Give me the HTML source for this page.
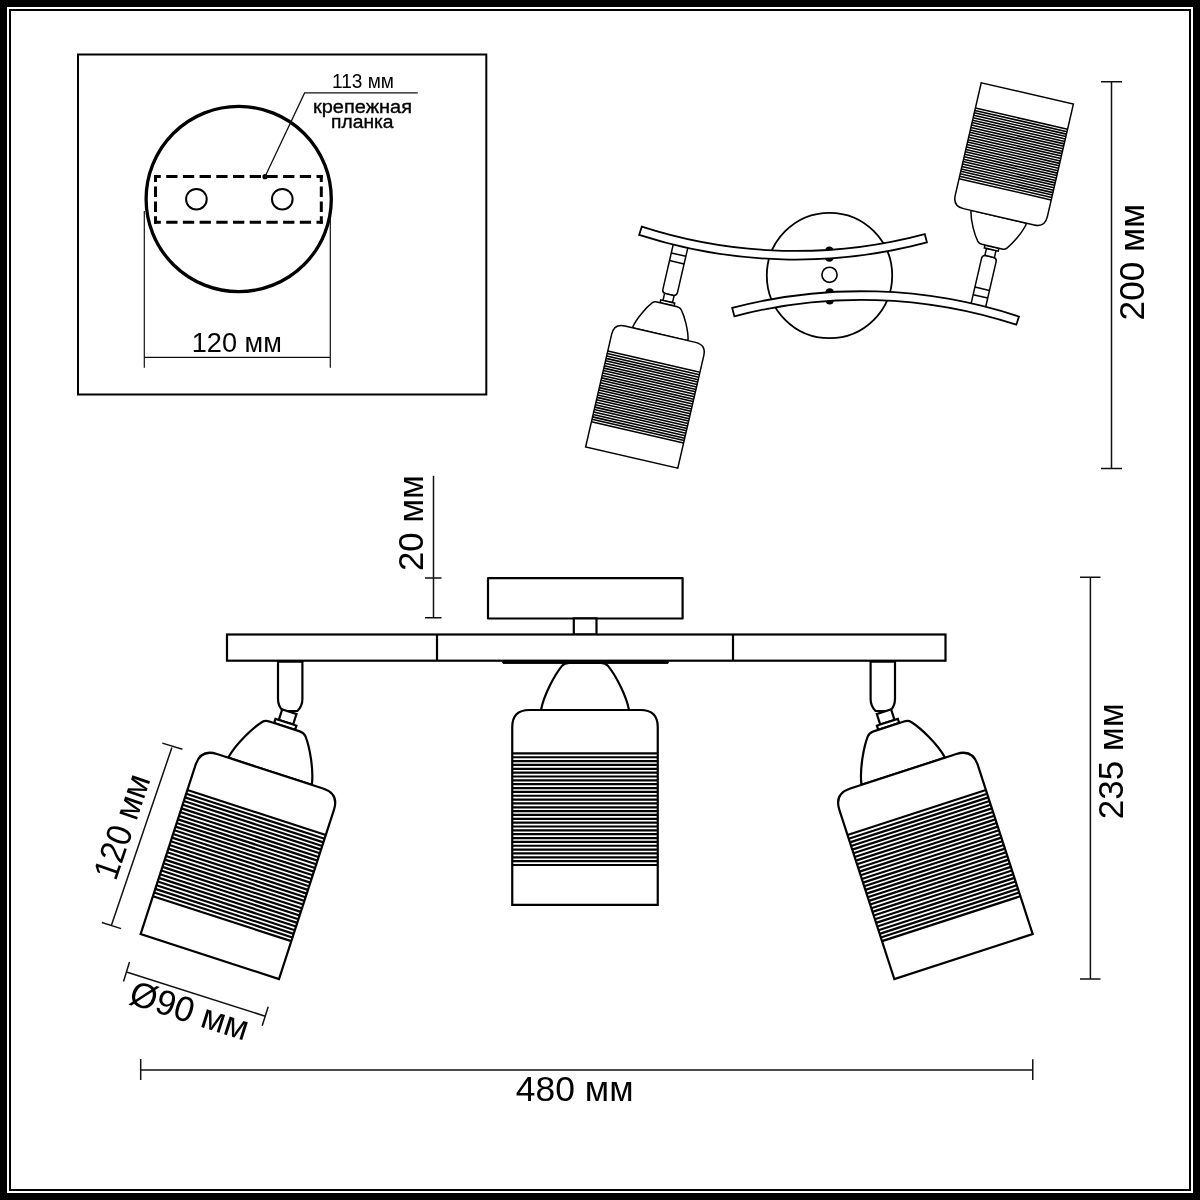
<!DOCTYPE html><html><head><meta charset="utf-8"><style>html,body{margin:0;padding:0;background:#fff;}svg{display:block;will-change:transform}text{font-family:"Liberation Sans",sans-serif;fill:#000}</style></head><body><svg width="1200" height="1200" viewBox="0 0 1200 1200"><rect x="0" y="0" width="1200" height="1200" fill="#000"/><rect x="7" y="7" width="1186" height="1186" fill="#fff"/><rect x="10" y="10" width="1180" height="1180" fill="none" stroke="#000" stroke-width="2"/><rect x="78" y="54.5" width="408.3" height="340" fill="none" stroke="#000" stroke-width="2"/><circle cx="238.7" cy="199" r="92.6" fill="none" stroke="#000" stroke-width="3.3"/><path d="M154.0,176.6H322.8M154.0,222.3H322.8" stroke="#000" stroke-width="3" stroke-dasharray="11.3 5.4" stroke-dashoffset="4.5" fill="none"/><path d="M155.5,175.1V223.8M321.3,175.1V223.8" stroke="#000" stroke-width="3" stroke-dasharray="10.5 4.4" stroke-dashoffset="3.5" fill="none"/><circle cx="196.4" cy="199.2" r="10.3" fill="none" stroke="#000" stroke-width="2"/><circle cx="282.3" cy="199.2" r="10.3" fill="none" stroke="#000" stroke-width="2"/><circle cx="265" cy="176.7" r="2.6" fill="#000"/><path d="M265,176.7 L304.6,92.9 H417.8" fill="none" stroke="#111" stroke-width="1.3"/><path d="M144.3,211V367.8M330.3,217.8V367.8M144.3,357.3H330.3" fill="none" stroke="#111" stroke-width="1.2"/><text x="363" y="87.5" font-size="19.5" text-anchor="middle" textLength="62" lengthAdjust="spacingAndGlyphs">113 мм</text><text x="362.5" y="113.4" font-size="18" stroke="#000" stroke-width="0.35" text-anchor="middle" textLength="99" lengthAdjust="spacingAndGlyphs">крепежная</text><text x="362.3" y="128" font-size="18" stroke="#000" stroke-width="0.35" text-anchor="middle" textLength="62.5" lengthAdjust="spacingAndGlyphs">планка</text><text x="236.8" y="351.6" font-size="27" text-anchor="middle" textLength="90" lengthAdjust="spacingAndGlyphs">120 мм</text><circle cx="829.5" cy="275.5" r="62.7" fill="#fff" stroke="#000" stroke-width="1.8"/><circle cx="829.5" cy="274.8" r="7.6" fill="#fff" stroke="#000" stroke-width="1.6"/><g transform="translate(645.95,395.9) rotate(13) scale(0.65)"><path d="M-11.5,-238 L-11.5,-166 Q-11.5,-160 -5.5,-160 L5.5,-160 Q11.5,-160 11.5,-166 L11.5,-238" fill="#fff" stroke="#000" stroke-width="2.3"/><path d="M-11.5,-211H11.5M-11.5,-223H11.5" stroke="#000" stroke-width="2.3"/><rect x="-7.5" y="-160" width="15" height="11" fill="#fff" stroke="#000" stroke-width="2.3"/><rect x="-11" y="-149" width="22" height="4.5" fill="#fff" stroke="#000" stroke-width="2.3"/><path d="M-44,-97.4 C-41,-113 -30,-133 -23,-141.5 Q-20.5,-144.5 -16,-144.5 L16,-144.5 Q20.5,-144.5 23,-141.5 C30,-133 41,-113 44,-97.4 Z" fill="#fff" stroke="#000" stroke-width="2.3" stroke-linejoin="round"/><path d="M-72.75,97.4 L-72.75,-80.4 Q-72.75,-97.4 -55.75,-97.4 L55.75,-97.4 Q72.75,-97.4 72.75,-80.4 L72.75,97.4 Z" fill="#fff" stroke="#000" stroke-width="2.3"/><path d="M-72.75,-54.00H72.75M-72.75,-50.15H72.75M-72.75,-46.30H72.75M-72.75,-42.46H72.75M-72.75,-38.61H72.75M-72.75,-34.76H72.75M-72.75,-30.91H72.75M-72.75,-27.06H72.75M-72.75,-23.21H72.75M-72.75,-19.37H72.75M-72.75,-15.52H72.75M-72.75,-11.67H72.75M-72.75,-7.82H72.75M-72.75,-3.97H72.75M-72.75,-0.12H72.75M-72.75,3.72H72.75M-72.75,7.57H72.75M-72.75,11.42H72.75M-72.75,15.27H72.75M-72.75,19.12H72.75M-72.75,22.97H72.75M-72.75,26.81H72.75M-72.75,30.66H72.75M-72.75,34.51H72.75M-72.75,38.36H72.75M-72.75,42.21H72.75M-72.75,46.06H72.75M-72.75,49.90H72.75M-72.75,53.75H72.75M-72.75,57.60H72.75" stroke="#000" stroke-width="2.4" fill="none"/></g><g transform="rotate(180,829.5,275.5) translate(645.95,395.9) rotate(13) scale(0.65)"><path d="M-11.5,-238 L-11.5,-166 Q-11.5,-160 -5.5,-160 L5.5,-160 Q11.5,-160 11.5,-166 L11.5,-238" fill="#fff" stroke="#000" stroke-width="2.3"/><path d="M-11.5,-211H11.5M-11.5,-223H11.5" stroke="#000" stroke-width="2.3"/><rect x="-7.5" y="-160" width="15" height="11" fill="#fff" stroke="#000" stroke-width="2.3"/><rect x="-11" y="-149" width="22" height="4.5" fill="#fff" stroke="#000" stroke-width="2.3"/><path d="M-44,-97.4 C-41,-113 -30,-133 -23,-141.5 Q-20.5,-144.5 -16,-144.5 L16,-144.5 Q20.5,-144.5 23,-141.5 C30,-133 41,-113 44,-97.4 Z" fill="#fff" stroke="#000" stroke-width="2.3" stroke-linejoin="round"/><path d="M-72.75,97.4 L-72.75,-80.4 Q-72.75,-97.4 -55.75,-97.4 L55.75,-97.4 Q72.75,-97.4 72.75,-80.4 L72.75,97.4 Z" fill="#fff" stroke="#000" stroke-width="2.3"/><path d="M-72.75,-54.00H72.75M-72.75,-50.15H72.75M-72.75,-46.30H72.75M-72.75,-42.46H72.75M-72.75,-38.61H72.75M-72.75,-34.76H72.75M-72.75,-30.91H72.75M-72.75,-27.06H72.75M-72.75,-23.21H72.75M-72.75,-19.37H72.75M-72.75,-15.52H72.75M-72.75,-11.67H72.75M-72.75,-7.82H72.75M-72.75,-3.97H72.75M-72.75,-0.12H72.75M-72.75,3.72H72.75M-72.75,7.57H72.75M-72.75,11.42H72.75M-72.75,15.27H72.75M-72.75,19.12H72.75M-72.75,22.97H72.75M-72.75,26.81H72.75M-72.75,30.66H72.75M-72.75,34.51H72.75M-72.75,38.36H72.75M-72.75,42.21H72.75M-72.75,46.06H72.75M-72.75,49.90H72.75M-72.75,53.75H72.75M-72.75,57.60H72.75" stroke="#000" stroke-width="2.4" fill="none"/></g><g><circle cx="829.3" cy="250.9" r="4.4" fill="#000"/><circle cx="829.3" cy="257.4" r="4.4" fill="#000"/><path d="M639.13,234.85 A508.96000000000004,508.96000000000004 0 0 0 926.95,242.37 L924.74,234.06 A500.36,500.36 0 0 1 641.78,226.67 Z" fill="#fff" stroke="#000" stroke-width="1.8"/></g><g><circle cx="829.7" cy="292.6" r="4.4" fill="#000"/><circle cx="829.7" cy="300.1" r="4.4" fill="#000"/><path d="M732.18,307.96 A505.15000000000003,505.15000000000003 0 0 1 1019.00,316.55 L1016.31,324.71 A496.55,496.55 0 0 0 734.37,316.27 Z" fill="#fff" stroke="#000" stroke-width="1.8"/></g><rect x="488" y="578.2" width="194.6" height="40.3" fill="#fff" stroke="#000" stroke-width="2.2" stroke-linejoin="round"/><rect x="573.8" y="618.4" width="22.7" height="16.2" fill="#fff" stroke="#000" stroke-width="2.2"/><path d="M278.0,661 L278.0,699 C278.0,705 281.0,709 283.0,711 L297.4,711 C299.4,709 302.4,705 302.4,699 L302.4,661" fill="#fff" stroke="#000" stroke-width="2.2"/><path d="M870.6,661 L870.6,699 C870.6,705 873.6,709 875.6,711 L890.0,711 C892.0,709 895.0,705 895.0,699 L895.0,661" fill="#fff" stroke="#000" stroke-width="2.2"/><rect x="227" y="634.5" width="718.5" height="26.2" fill="#fff" stroke="#000" stroke-width="2.2"/><path d="M437,634.5V660.7M733,634.5V660.7" stroke="#000" stroke-width="2.2"/><path d="M504,662.2H667" stroke="#000" stroke-width="3" stroke-linecap="round"/><path d="M278,661.5H302.4M870.6,661.5H895" stroke="#000" stroke-width="2.5"/><g transform="translate(585,807.4)"><path d="M-44,-97.4 C-41,-113 -30,-133 -23,-141.5 Q-20.5,-144.5 -16,-144.5 L16,-144.5 Q20.5,-144.5 23,-141.5 C30,-133 41,-113 44,-97.4 Z" fill="#fff" stroke="#000" stroke-width="2.2" stroke-linejoin="round"/><path d="M-72.75,97.4 L-72.75,-80.4 Q-72.75,-97.4 -55.75,-97.4 L55.75,-97.4 Q72.75,-97.4 72.75,-80.4 L72.75,97.4 Z" fill="#fff" stroke="#000" stroke-width="2.2"/><path d="M-72.75,-54.00H72.75M-72.75,-50.15H72.75M-72.75,-46.30H72.75M-72.75,-42.46H72.75M-72.75,-38.61H72.75M-72.75,-34.76H72.75M-72.75,-30.91H72.75M-72.75,-27.06H72.75M-72.75,-23.21H72.75M-72.75,-19.37H72.75M-72.75,-15.52H72.75M-72.75,-11.67H72.75M-72.75,-7.82H72.75M-72.75,-3.97H72.75M-72.75,-0.12H72.75M-72.75,3.72H72.75M-72.75,7.57H72.75M-72.75,11.42H72.75M-72.75,15.27H72.75M-72.75,19.12H72.75M-72.75,22.97H72.75M-72.75,26.81H72.75M-72.75,30.66H72.75M-72.75,34.51H72.75M-72.75,38.36H72.75M-72.75,42.21H72.75M-72.75,46.06H72.75M-72.75,49.90H72.75M-72.75,53.75H72.75M-72.75,57.60H72.75" stroke="#000" stroke-width="2.2" fill="none"/></g><g transform="translate(239.9,863.9) rotate(18)"><rect x="-7.5" y="-160" width="15" height="11" fill="#fff" stroke="#000" stroke-width="2.2"/><rect x="-11" y="-149" width="22" height="4.5" fill="#fff" stroke="#000" stroke-width="2.2"/><path d="M-44,-97.4 C-41,-113 -30,-133 -23,-141.5 Q-20.5,-144.5 -16,-144.5 L16,-144.5 Q20.5,-144.5 23,-141.5 C30,-133 41,-113 44,-97.4 Z" fill="#fff" stroke="#000" stroke-width="2.2" stroke-linejoin="round"/><path d="M-72.75,97.4 L-72.75,-80.4 Q-72.75,-97.4 -55.75,-97.4 L55.75,-97.4 Q72.75,-97.4 72.75,-80.4 L72.75,97.4 Z" fill="#fff" stroke="#000" stroke-width="2.2"/><path d="M-72.75,-54.00H72.75M-72.75,-50.15H72.75M-72.75,-46.30H72.75M-72.75,-42.46H72.75M-72.75,-38.61H72.75M-72.75,-34.76H72.75M-72.75,-30.91H72.75M-72.75,-27.06H72.75M-72.75,-23.21H72.75M-72.75,-19.37H72.75M-72.75,-15.52H72.75M-72.75,-11.67H72.75M-72.75,-7.82H72.75M-72.75,-3.97H72.75M-72.75,-0.12H72.75M-72.75,3.72H72.75M-72.75,7.57H72.75M-72.75,11.42H72.75M-72.75,15.27H72.75M-72.75,19.12H72.75M-72.75,22.97H72.75M-72.75,26.81H72.75M-72.75,30.66H72.75M-72.75,34.51H72.75M-72.75,38.36H72.75M-72.75,42.21H72.75M-72.75,46.06H72.75M-72.75,49.90H72.75M-72.75,53.75H72.75M-72.75,57.60H72.75" stroke="#000" stroke-width="2.2" fill="none"/></g><g transform="translate(933.4,863.9) rotate(-18)"><rect x="-7.5" y="-160" width="15" height="11" fill="#fff" stroke="#000" stroke-width="2.2"/><rect x="-11" y="-149" width="22" height="4.5" fill="#fff" stroke="#000" stroke-width="2.2"/><path d="M-44,-97.4 C-41,-113 -30,-133 -23,-141.5 Q-20.5,-144.5 -16,-144.5 L16,-144.5 Q20.5,-144.5 23,-141.5 C30,-133 41,-113 44,-97.4 Z" fill="#fff" stroke="#000" stroke-width="2.2" stroke-linejoin="round"/><path d="M-72.75,97.4 L-72.75,-80.4 Q-72.75,-97.4 -55.75,-97.4 L55.75,-97.4 Q72.75,-97.4 72.75,-80.4 L72.75,97.4 Z" fill="#fff" stroke="#000" stroke-width="2.2"/><path d="M-72.75,-54.00H72.75M-72.75,-50.15H72.75M-72.75,-46.30H72.75M-72.75,-42.46H72.75M-72.75,-38.61H72.75M-72.75,-34.76H72.75M-72.75,-30.91H72.75M-72.75,-27.06H72.75M-72.75,-23.21H72.75M-72.75,-19.37H72.75M-72.75,-15.52H72.75M-72.75,-11.67H72.75M-72.75,-7.82H72.75M-72.75,-3.97H72.75M-72.75,-0.12H72.75M-72.75,3.72H72.75M-72.75,7.57H72.75M-72.75,11.42H72.75M-72.75,15.27H72.75M-72.75,19.12H72.75M-72.75,22.97H72.75M-72.75,26.81H72.75M-72.75,30.66H72.75M-72.75,34.51H72.75M-72.75,38.36H72.75M-72.75,42.21H72.75M-72.75,46.06H72.75M-72.75,49.90H72.75M-72.75,53.75H72.75M-72.75,57.60H72.75" stroke="#000" stroke-width="2.2" fill="none"/></g><path d="M504,662.2H667" stroke="#000" stroke-width="3" stroke-linecap="round"/><path d="M433.5,475.8V618 M425,578H441.5 M425,617.8H441.5" stroke="#111" stroke-width="1.5" fill="none"/><text transform="translate(423,523.1) rotate(-90)" font-size="35.2" text-anchor="middle" textLength="96" lengthAdjust="spacingAndGlyphs">20 мм</text><path d="M1090.4,577.2V979 M1080,577.2H1100.5 M1080,979H1100.5" stroke="#111" stroke-width="1.5" fill="none"/><text transform="translate(1123,761.2) rotate(-90)" font-size="35.2" text-anchor="middle" textLength="116" lengthAdjust="spacingAndGlyphs">235 мм</text><path d="M1111.5,81.7V468.5 M1101,81.7H1122 M1101,468.5H1122" stroke="#111" stroke-width="1.5" fill="none"/><text transform="translate(1143.8,262.1) rotate(-90)" font-size="35.2" text-anchor="middle" textLength="116.6" lengthAdjust="spacingAndGlyphs">200 мм</text><path d="M140.7,1069.9H1032.75 M140.7,1059V1080 M1032.75,1059.25V1080" stroke="#111" stroke-width="1.5" fill="none"/><text x="574.65" y="1101.3" font-size="35.2" text-anchor="middle" textLength="117.7" lengthAdjust="spacingAndGlyphs">480 мм</text><path d="M171.9,747.5 L111.5,925.1 M162.3,743.1 L182.4,749.3 M101.9,922.5 L121.1,928.6" stroke="#111" stroke-width="1.5" fill="none"/><text transform="translate(133.2,830.5) rotate(-71.2)" font-size="35.2" text-anchor="middle" textLength="108.5" lengthAdjust="spacingAndGlyphs">120 мм</text><path d="M127.25,972.2 L264.5,1016 M129.5,962 L123.5,981.5 M268.2,1006.7 L262.2,1025.7" stroke="#111" stroke-width="1.5" fill="none"/><text transform="translate(186,1022) rotate(17.7)" font-size="35.2" text-anchor="middle" textLength="123" lengthAdjust="spacingAndGlyphs">Ø90 мм</text></svg></body></html>
